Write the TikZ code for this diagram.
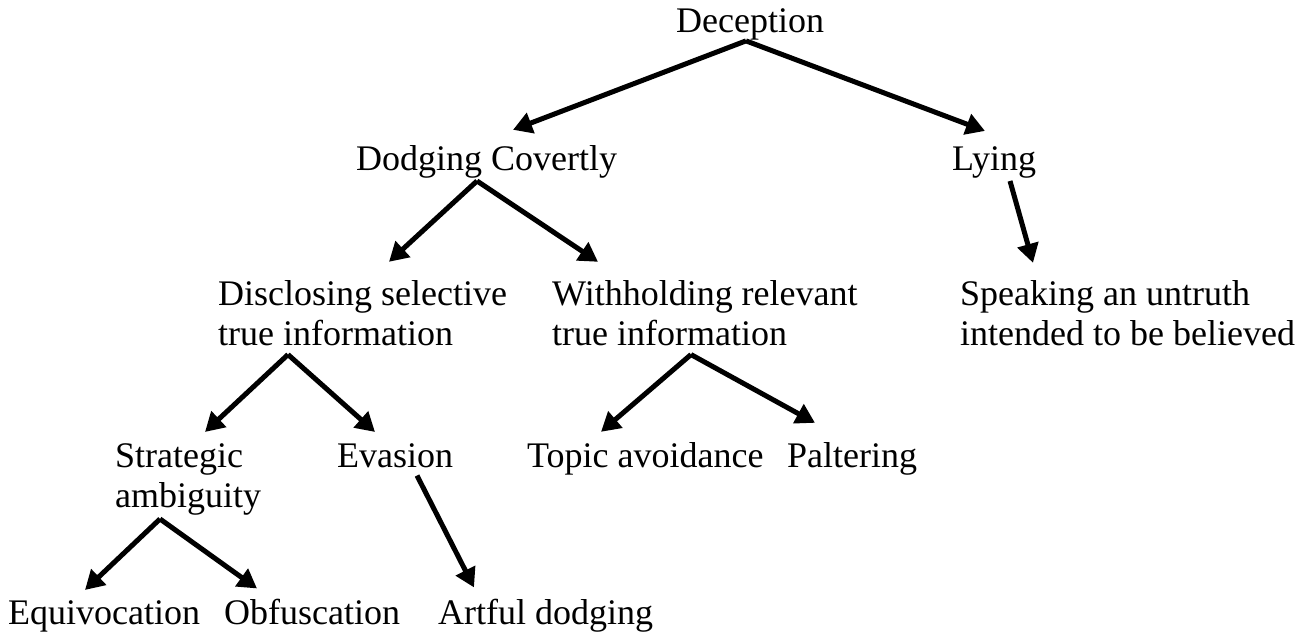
\documentclass[tikz,border=0pt]{standalone}
\usepackage{fontspec}
\setmainfont{Liberation Serif}
\usetikzlibrary{arrows.meta,calc}
\tikzset{
  lbl/.style={inner sep=0pt, anchor=base west, align=left, font=\fontsize{36}{40}\selectfont},
  arr/.style={line width=5pt, -{Triangle[length=19pt,width=21pt]}}
}
\begin{document}
\begin{tikzpicture}[x=1pt,y=-1pt]
\useasboundingbox[fill=white] (0,0) rectangle (1296,640);
\node[lbl] (dec) at (676,32) {Deception};
\node[lbl] (dc) at (356,170) {Dodging Covertly};
\node[lbl] (ly) at (952,170) {Lying};
\node[lbl] (dis) at (218,345) {Disclosing selective\\true information};
\node[lbl] (wh) at (552,345) {Withholding relevant\\true information};
\node[lbl] (sp) at (960,345) {Speaking an untruth\\intended to be believed};
\node[lbl] (sa) at (115,507) {Strategic\\ambiguity};
\node[lbl] (ev) at (337,467) {Evasion};
\node[lbl] (ta) at (527,467) {Topic avoidance};
\node[lbl] (pa) at (787,467) {Paltering};
\node[lbl] (eq) at (8,624) {Equivocation};
\node[lbl] (ob) at (224,624) {Obfuscation};
\node[lbl] (ad) at (438,624) {Artful dodging};

\draw[arr] ($(dec.south west)+(70,1)$) -- ($(dc.north west)+(157,-15)$);
\draw[arr] ($(dec.south west)+(70,1)$) -- ($(ly.north west)+(33,-15)$);
\draw[arr] ($(dc.south west)+(121,3)$) -- ($(dis.north west)+(171,-18)$);
\draw[arr] ($(dc.south west)+(121,3)$) -- ($(wh.north west)+(46,-18)$);
\draw[arr] ($(ly.south west)+(58,3)$) -- ($(sp.north west)+(73,-17)$);
\draw[arr] ($(dis.south west)+(70,9)$) -- ($(sa.north west)+(90,-11)$);
\draw[arr] ($(dis.south west)+(70,9)$) -- ($(ev.north west)+(38,-11)$);
\draw[arr] ($(wh.south west)+(139,9)$) -- ($(ta.north west)+(74,-10)$);
\draw[arr] ($(wh.south west)+(139,9)$) -- ($(pa.north west)+(28,-19)$);
\draw[arr] ($(sa.south west)+(45,4)$) -- ($(eq.north west)+(77,-10)$);
\draw[arr] ($(sa.south west)+(45,4)$) -- ($(ob.north west)+(33,-10)$);
\draw[arr] ($(ev.south west)+(80,8)$) -- ($(ad.north west)+(36,-11)$);
\end{tikzpicture}
\end{document}
